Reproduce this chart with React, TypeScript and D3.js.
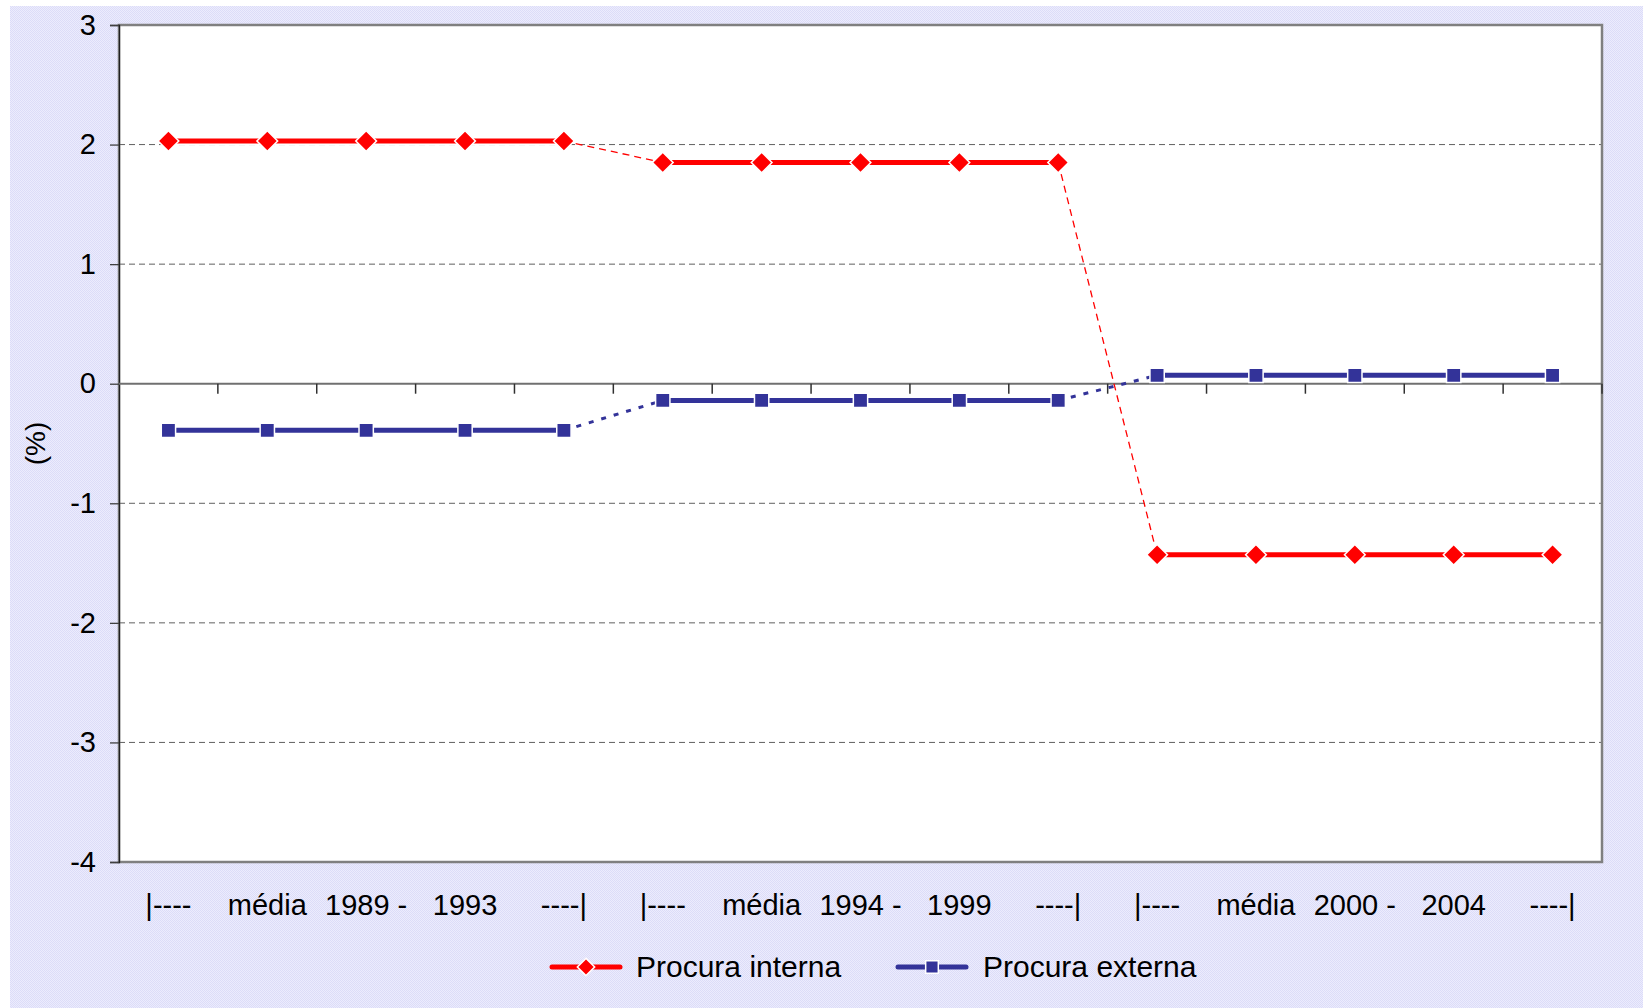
import React, { useEffect, useRef } from 'react';
import * as d3 from 'd3';

// categories along the x axis (15 slots, 3 periods of 5)
const categories = [
  '|----', 'média', '1989 -', '1993', '----|',
  '|----', 'média', '1994 -', '1999', '----|',
  '|----', 'média', '2000 -', '2004', '----|',
];
const periodOf = [0, 0, 0, 0, 0, 1, 1, 1, 1, 1, 2, 2, 2, 2, 2];

// series values (%)
const procuraInterna = [
  2.03, 2.03, 2.03, 2.03, 2.03,
  1.85, 1.85, 1.85, 1.85, 1.85,
  -1.43, -1.43, -1.43, -1.43, -1.43,
];
const procuraExterna = [
  -0.39, -0.39, -0.39, -0.39, -0.39,
  -0.14, -0.14, -0.14, -0.14, -0.14,
  0.07, 0.07, 0.07, 0.07, 0.07,
];
const yTicks = [3, 2, 1, 0, -1, -2, -3, -4];

const W = 1643;
const H = 1008;
const FONT = 'Liberation Sans, Arial, sans-serif';
const FS = 29;

const App = () => {
  const ref = useRef<SVGSVGElement>(null);

  useEffect(() => {
    const svg = d3.select(ref.current);
    svg.selectAll('*').remove();

    const plot = { left: 119, top: 25, right: 1602, bottom: 862 };

    const x = d3
      .scaleBand<number>()
      .domain(d3.range(categories.length))
      .range([plot.left, plot.right]);
    const y = d3.scaleLinear().domain([-4, 3]).range([plot.bottom, plot.top]);
    const cx = (i: number) => (x(i) as number) + x.bandwidth() / 2;

    // background with dotted texture
    const defs = svg.append('defs');
    const pat = defs
      .append('pattern')
      .attr('id', 'dots')
      .attr('width', 2)
      .attr('height', 2)
      .attr('patternUnits', 'userSpaceOnUse');
    pat.append('rect').attr('width', 2).attr('height', 2).attr('fill', '#ececfd');
    pat.append('rect').attr('width', 1).attr('height', 1).attr('fill', '#dcdcf8');
    pat.append('rect').attr('x', 1).attr('y', 1).attr('width', 1).attr('height', 1).attr('fill', '#dcdcf8');

    svg.append('rect').attr('width', W).attr('height', H).attr('fill', '#ffffff');
    svg
      .append('rect')
      .attr('x', 10)
      .attr('y', 6)
      .attr('width', W - 10)
      .attr('height', H - 6)
      .attr('fill', 'url(#dots)');

    // plot area
    svg
      .append('rect')
      .attr('x', plot.left)
      .attr('y', plot.top)
      .attr('width', plot.right - plot.left)
      .attr('height', plot.bottom - plot.top)
      .attr('fill', '#ffffff');

    // gridlines
    svg
      .append('g')
      .selectAll('line')
      .data(yTicks.filter((t) => t !== 0 && t !== 3 && t !== -4))
      .enter()
      .append('line')
      .attr('x1', plot.left)
      .attr('x2', plot.right)
      .attr('y1', (d) => y(d))
      .attr('y2', (d) => y(d))
      .attr('stroke', '#606060')
      .attr('stroke-width', 1)
      .attr('stroke-dasharray', '6,4');

    // border
    svg
      .append('rect')
      .attr('x', plot.left)
      .attr('y', plot.top)
      .attr('width', plot.right - plot.left)
      .attr('height', plot.bottom - plot.top)
      .attr('fill', 'none')
      .attr('stroke', '#808080')
      .attr('stroke-width', 2.5);

    // y axis
    const yAxis = d3
      .axisLeft(y)
      .tickValues(yTicks)
      .tickSize(9)
      .tickPadding(14)
      .tickFormat((d) => String(d));
    const gy = svg.append('g').attr('transform', `translate(${plot.left},0)`).call(yAxis);
    gy.select('.domain').attr('stroke', '#202020').attr('stroke-width', 1.3);
    gy.selectAll('.tick line').attr('stroke', '#404040').attr('stroke-width', 1.3);
    gy.selectAll('.tick text')
      .attr('font-family', FONT)
      .attr('font-size', FS)
      .attr('fill', '#000');

    // zero axis with category boundary ticks
    svg
      .append('line')
      .attr('x1', plot.left)
      .attr('x2', plot.right)
      .attr('y1', y(0))
      .attr('y2', y(0))
      .attr('stroke', '#707070')
      .attr('stroke-width', 2);
    svg
      .append('g')
      .selectAll('line')
      .data(d3.range(1, categories.length + 1))
      .enter()
      .append('line')
      .attr('x1', (i) => (i < categories.length ? (x(i) as number) : plot.right))
      .attr('x2', (i) => (i < categories.length ? (x(i) as number) : plot.right))
      .attr('y1', y(0))
      .attr('y2', y(0) + 10)
      .attr('stroke', '#303030')
      .attr('stroke-width', 1.5);

    // category labels
    svg
      .append('g')
      .selectAll('text')
      .data(categories)
      .enter()
      .append('text')
      .attr('x', (_, i) => cx(i))
      .attr('y', 915)
      .attr('text-anchor', 'middle')
      .attr('font-family', FONT)
      .attr('font-size', FS)
      .attr('fill', '#000')
      .text((d) => d);

    // y title
    svg
      .append('text')
      .attr('transform', `translate(45,${(plot.top + plot.bottom) / 2}) rotate(-90)`)
      .attr('text-anchor', 'middle')
      .attr('font-family', FONT)
      .attr('font-size', FS - 1)
      .attr('fill', '#000')
      .text('(%)');

    const series = [
      { name: 'Procura interna', values: procuraInterna, color: '#ff0000', marker: 'diamond', dashW: 1.3, dash: '7,5' },
      { name: 'Procura externa', values: procuraExterna, color: '#333399', marker: 'square', dashW: 3, dash: '5,8' },
    ];

    series.forEach((s) => {
      const g = svg.append('g');
      const pts = s.values.map((v, i) => ({ v, i }));
      // connecting dashed lines between periods
      for (let i = 0; i < pts.length - 1; i++) {
        if (periodOf[i] === periodOf[i + 1]) continue;
        g.append('line')
          .attr('x1', cx(i))
          .attr('y1', y(s.values[i]))
          .attr('x2', cx(i + 1))
          .attr('y2', y(s.values[i + 1]))
          .attr('stroke', s.color)
          .attr('stroke-width', s.dashW)
          .attr('stroke-dasharray', s.dash);
      }
      // solid segments within periods
      [0, 1, 2].forEach((p) => {
        const idx = d3.range(categories.length).filter((i) => periodOf[i] === p);
        const vals = idx.map((i) => s.values[i]);
        const l = d3
          .line<number>()
          .x((_, k) => cx(idx[k]))
          .y((d) => y(d));
        g.append('path').attr('d', l(vals)).attr('fill', 'none').attr('stroke', '#ffffff').attr('stroke-width', 8);
        g.append('path').attr('d', l(vals)).attr('fill', 'none').attr('stroke', s.color).attr('stroke-width', 5);
      });
      // markers
      const sym = d3.symbol().type(d3.symbolSquare).size(s.marker === 'diamond' ? 215 : 205);
      g.selectAll('path.mk')
        .data(pts)
        .enter()
        .append('path')
        .attr('class', 'mk')
        .attr('d', sym() as string)
        .attr(
          'transform',
          (d) => `translate(${cx(d.i)},${y(d.v)})` + (s.marker === 'diamond' ? ' rotate(45)' : '')
        )
        .attr('fill', s.color)
        .attr('stroke', '#ffffff')
        .attr('stroke-width', 1.5);
    });

    // legend
    const legend = svg.append('g').attr('transform', 'translate(0,967)');
    const legendItems = [
      { x: 552, tx: 636, s: series[0] },
      { x: 898, tx: 983, s: series[1] },
    ];
    legendItems.forEach((it) => {
      legend
        .append('line')
        .attr('x1', it.x)
        .attr('x2', it.x + 68)
        .attr('stroke', it.s.color)
        .attr('stroke-width', 5)
        .attr('stroke-linecap', 'round');
      legend
        .append('path')
        .attr('d', d3.symbol().type(d3.symbolSquare).size(it.s.marker === 'diamond' ? 150 : 160)() as string)
        .attr('transform', `translate(${it.x + 34},0)` + (it.s.marker === 'diamond' ? ' rotate(45)' : ''))
        .attr('fill', it.s.color)
        .attr('stroke', '#ffffff')
        .attr('stroke-width', 1.5);
      legend
        .append('text')
        .attr('x', it.tx)
        .attr('y', 10)
        .attr('font-family', FONT)
        .attr('font-size', FS + 1)
        .attr('fill', '#000')
        .text(it.s.name);
    });
  }, []);

  return (
    <div style={{ position: 'absolute', left: 0, top: 0 }}>
      <svg ref={ref} width={W} height={H} style={{ display: 'block' }}></svg>
    </div>
  );
};

export default App;
